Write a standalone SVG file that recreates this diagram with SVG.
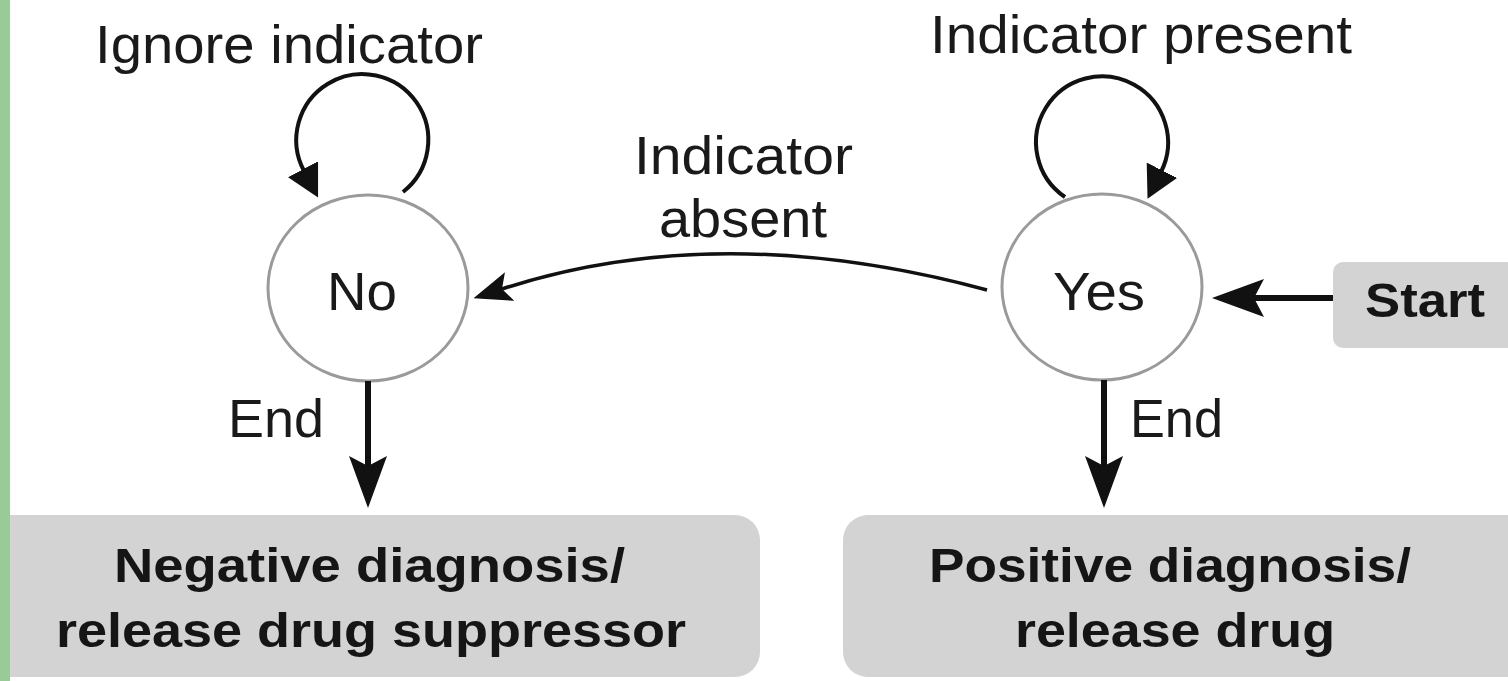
<svg xmlns="http://www.w3.org/2000/svg" width="1508" height="681" viewBox="0 0 1508 681">
  <style>
    .lbl { font-family: "Liberation Sans", Arial, sans-serif; font-size: 54px; fill: #1a1a1a; }
    .bold { font-family: "Liberation Sans", Arial, sans-serif; font-size: 48px; font-weight: bold; fill: #151515; }
    .state { fill: #ffffff; stroke: #9a9a9a; stroke-width: 3; }
    .box { fill: #d3d3d3; }
    .edge { fill: none; stroke: #111111; }
  </style>
  <defs>
    <marker id="headBig" viewBox="0 0 52 38" refX="10" refY="19" markerWidth="52" markerHeight="38" markerUnits="userSpaceOnUse" orient="auto">
      <path d="M0,0 L52,19 L0,38 L10,19 Z" fill="#111111"/>
    </marker>
    <marker id="headLoop" viewBox="0 0 32 34" refX="2" refY="17" markerWidth="32" markerHeight="34" markerUnits="userSpaceOnUse" orient="auto">
      <path d="M0,0 L32,17 L0,34 Z" fill="#111111"/>
    </marker>
    <marker id="headCurve" viewBox="0 0 38 30" refX="8" refY="15" markerWidth="38" markerHeight="30" markerUnits="userSpaceOnUse" orient="auto">
      <path d="M0,0 L38,15 L0,30 L8,15 Z" fill="#111111"/>
    </marker>
  </defs>

  <rect x="0" y="0" width="1508" height="681" fill="#ffffff"/>

  <!-- outcome boxes -->
  <g id="negative">
    <rect class="box" x="-20" y="515" width="780" height="162" rx="25"/>
    <text class="bold" x="114" y="582" textLength="511" lengthAdjust="spacingAndGlyphs">Negative diagnosis/</text>
    <text class="bold" x="56" y="647" textLength="630" lengthAdjust="spacingAndGlyphs">release drug suppressor</text>
  </g>
  <g id="positive">
    <rect class="box" x="843" y="515" width="720" height="162" rx="25"/>
    <text class="bold" x="929" y="582" textLength="482" lengthAdjust="spacingAndGlyphs">Positive diagnosis/</text>
    <text class="bold" x="1015" y="647" textLength="320" lengthAdjust="spacingAndGlyphs">release drug</text>
  </g>

  <!-- start tag -->
  <g id="start">
    <rect class="box" x="1333" y="262" width="220" height="86" rx="10"/>
    <text class="bold" x="1365" y="317" textLength="120" lengthAdjust="spacingAndGlyphs">Start</text>
  </g>

  <!-- states -->
  <g id="state-no">
    <ellipse class="state" cx="368" cy="288" rx="100" ry="93"/>
    <text class="lbl" x="327" y="310" textLength="70" lengthAdjust="spacingAndGlyphs">No</text>
  </g>
  <g id="state-yes">
    <ellipse class="state" cx="1102" cy="287" rx="100" ry="93"/>
    <text class="lbl" x="1053" y="310" textLength="92" lengthAdjust="spacingAndGlyphs">Yes</text>
  </g>

  <!-- transitions -->
  <g id="connectors">
    <path class="edge" stroke-width="4" d="M403,192 A66,66 0 1 0 304,171" marker-end="url(#headLoop)"/>
    <path class="edge" stroke-width="4" d="M1065,197 A66,66 0 1 1 1161,172" marker-end="url(#headLoop)"/>
    <path class="edge" stroke-width="3.5" d="M987,290 Q720,218 502,289" marker-end="url(#headCurve)"/>
    <path class="edge" stroke-width="6" d="M1333,298 L1254,298" marker-end="url(#headBig)"/>
    <path class="edge" stroke-width="6" d="M368,381 L368,466" marker-end="url(#headBig)"/>
    <path class="edge" stroke-width="6" d="M1104,380 L1104,466" marker-end="url(#headBig)"/>
  </g>

  <!-- transition labels -->
  <g id="labels">
    <text class="lbl" x="95" y="63" textLength="388" lengthAdjust="spacingAndGlyphs">Ignore indicator</text>
    <text class="lbl" x="930" y="53" textLength="422" lengthAdjust="spacingAndGlyphs">Indicator present</text>
    <text class="lbl" x="634" y="174" textLength="219" lengthAdjust="spacingAndGlyphs">Indicator</text>
    <text class="lbl" x="659" y="237" textLength="168" lengthAdjust="spacingAndGlyphs">absent</text>
    <text class="lbl" x="228" y="437" textLength="96" lengthAdjust="spacingAndGlyphs">End</text>
    <text class="lbl" x="1130" y="437" textLength="93" lengthAdjust="spacingAndGlyphs">End</text>
  </g>

  <!-- left edge band -->
  <rect x="0" y="0" width="10" height="681" fill="#98cb98"/>
</svg>
